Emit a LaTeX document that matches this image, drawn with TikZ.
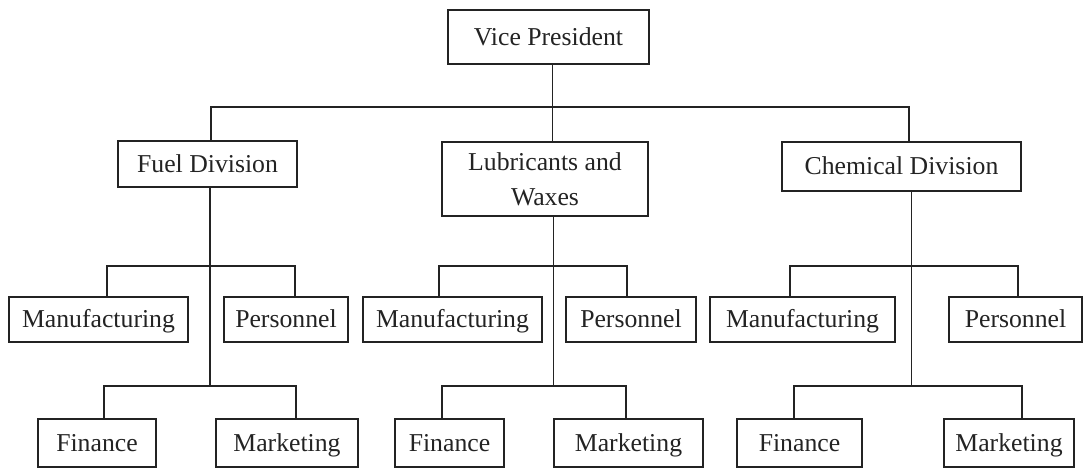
\documentclass[tikz,border=0pt]{standalone}
\usepackage{fontspec}
\setmainfont{Liberation Serif}
\definecolor{ink}{RGB}{35,35,35}

\tikzset{every picture/.style={line width=1pt}}
\tikzset{
  unit/.style={draw=ink, text=ink, inner sep=0pt, align=center, font=\fontsize{19.3pt}{26pt}\selectfont},
  single/.style={unit, text height=16.5pt, text depth=3.8pt},
  rowtwo/.style={single, minimum height=33.75pt},
  rowthree/.style={single, minimum height=36pt},
  link/.style={draw=ink, line width=1.1pt}
}

\begin{document}
\begin{tikzpicture}[x=0.75pt,y=0.75pt,yscale=-1,xscale=1]
\useasboundingbox (0,0) rectangle (1084,468);

% Top and divisions
\node [single, minimum width=150.75pt, minimum height=40.5pt] (vp) at (548.5,37) {Vice President};
\node [single, minimum width=134.25pt, minimum height=34.5pt] (fuel) at (207.5,164) {Fuel Division};
\node [unit, minimum width=154.5pt, minimum height=55.5pt] (lub) at (545,179) {Lubricants and\\Waxes};
\node [single, minimum width=179.25pt, minimum height=36.75pt] (chem) at (901.5,166.5) {Chemical Division};

% Departments, second row
\node [rowtwo, minimum width=134.25pt] (fuelmfg) at (98.5,319.5) {Manufacturing};
\node [rowtwo, minimum width=93pt] (fuelper) at (286,319.5) {Personnel};
\node [rowtwo, minimum width=134.25pt] (lubmfg) at (452.5,319.5) {Manufacturing};
\node [rowtwo, minimum width=97.5pt] (lubper) at (631,319.5) {Personnel};
\node [rowtwo, minimum width=138.75pt] (chemmfg) at (802.5,319.5) {Manufacturing};
\node [rowtwo, minimum width=99.75pt] (chemper) at (1015.5,319.5) {Personnel};

% Departments, third row
\node [rowthree, minimum width=88.5pt] (fuelfin) at (97,443) {Finance};
\node [rowthree, minimum width=106.5pt] (fuelmkt) at (287,443) {Marketing};
\node [rowthree, minimum width=81.75pt] (lubfin) at (449.5,443) {Finance};
\node [rowthree, minimum width=111.75pt] (lubmkt) at (628.5,443) {Marketing};
\node [rowthree, minimum width=93.75pt] (chemfin) at (799.5,443) {Finance};
\node [rowthree, minimum width=97.5pt] (chemmkt) at (1009,443) {Marketing};

% Bus lines
\coordinate (top) at (552.5,107);
\coordinate (fuelup) at (210,266);
\coordinate (fuellow) at (210,386);
\coordinate (lubup) at (553.5,266);
\coordinate (lublow) at (553.5,386);
\coordinate (chemup) at (911.5,266);
\coordinate (chemlow) at (911.5,386);

% Vice President to divisions
\draw [link] (vp.south -| top) -- (top);
\draw [link] ([xshift=2.6pt]fuel.north) |- (top) -| ([xshift=5.6pt]chem.north);
\draw [link] (lub.north -| top) -- (top);

% Fuel Division
\draw [link] (fuel.south -| fuellow) -- (fuellow);
\draw [link] ([xshift=6.4pt]fuelmfg.north) |- (fuelup) -| ([xshift=6.75pt]fuelper.north);
\draw [link] ([xshift=5.25pt]fuelfin.north) |- (fuellow) -| ([xshift=6.75pt]fuelmkt.north);

% Lubricants and Waxes
\draw [link] (lub.south -| lublow) -- (lublow);
\draw [link] ([xshift=-10.1pt]lubmfg.north) |- (lubup) -| ([xshift=-3pt]lubper.north);
\draw [link] ([xshift=-5.6pt]lubfin.north) |- (lublow) -| ([xshift=-1.9pt]lubmkt.north);

% Chemical Division
\draw [link] (chem.south -| chemlow) -- (chemlow);
\draw [link] ([xshift=-9.4pt]chemmfg.north) |- (chemup) -| ([xshift=1.9pt]chemper.north);
\draw [link] ([xshift=-4.1pt]chemfin.north) |- (chemlow) -| ([xshift=9.75pt]chemmkt.north);
\end{tikzpicture}
\end{document}
